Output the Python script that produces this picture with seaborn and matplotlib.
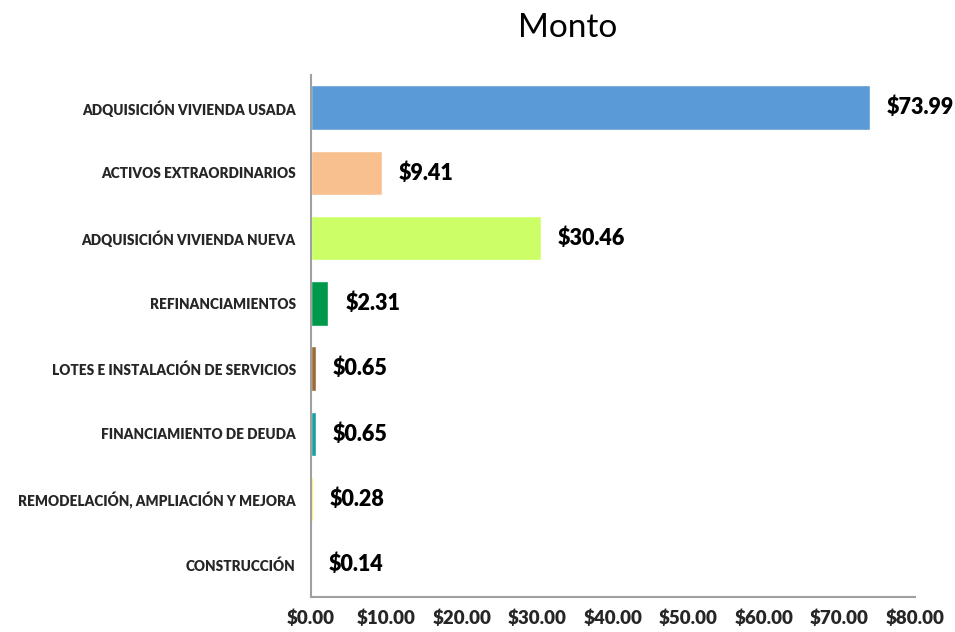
import numpy as np
import pandas as pd
import matplotlib
matplotlib.use("Agg")
import matplotlib.pyplot as plt
import seaborn as sns

categories = [
    "ADQUISICIÓN VIVIENDA USADA",
    "ACTIVOS EXTRAORDINARIOS",
    "ADQUISICIÓN VIVIENDA NUEVA",
    "REFINANCIAMIENTOS",
    "LOTES E INSTALACIÓN DE SERVICIOS",
    "FINANCIAMIENTO DE DEUDA",
    "REMODELACIÓN, AMPLIACIÓN Y MEJORA",
    "CONSTRUCCIÓN",
]
montos = [73.99, 9.41, 30.46, 2.31, 0.65, 0.65, 0.28, 0.14]
colors = ["#5B9BD5", "#F9C08F", "#CCFF66", "#00994C",
          "#9C6B38", "#1A9E9E", "#FFFF00", "#8B1A1A"]
x_ticks = [0, 10, 20, 30, 40, 50, 60, 70, 80]

sns.set_style("white")
plt.rcParams["font.family"] = ["Lato", "DejaVu Sans"]

df = pd.DataFrame({"categoria": categories, "monto": montos})

fig = plt.figure(figsize=(9.55, 6.32), dpi=100)
ax = fig.add_axes([0.3257, 0.0554, 0.6323, 0.8259])

sns.barplot(data=df, y="categoria", x="monto", hue="categoria",
            palette=colors, order=categories, hue_order=categories,
            width=0.68, saturation=1, legend=False, ax=ax, orient="h")

for i, v in enumerate(montos):
    ax.annotate(f"${v:.2f}", xy=(v, i), xytext=(12, 0),
                textcoords="offset points", ha="left", va="center",
                fontsize=15.5, fontweight="heavy", color="black")

ax.set_xlim(0, 80)
ax.set_ylim(len(categories) - 0.5, -0.5)
ax.set_xticks(x_ticks)
ax.set_xticklabels([f"${t:.2f}" for t in x_ticks], fontsize=13.5, fontweight="heavy")
ax.set_yticks(range(len(categories)))
ax.set_yticklabels(categories, fontsize=9.8, fontweight="heavy")
ax.tick_params(axis="y", which="major", length=0, pad=11)
ax.set_yticks(np.arange(-0.5, len(categories), 1), minor=True)
ax.tick_params(axis="y", which="minor", length=5, color="#A0A0A0", width=1.2)
ax.tick_params(axis="x", which="major", length=5, color="#A0A0A0", width=1.2,
               direction="out", pad=4)
ax.set_xlabel("")
ax.set_ylabel("")

for s in ["top", "right"]:
    ax.spines[s].set_visible(False)
for s in ["left", "bottom"]:
    ax.spines[s].set_color("#A0A0A0")
    ax.spines[s].set_linewidth(1.5)

fig.text(0.594, 0.955, "Monto", ha="center", va="center", fontsize=24,
         color="black")

fig.savefig("out.png", dpi=100)
